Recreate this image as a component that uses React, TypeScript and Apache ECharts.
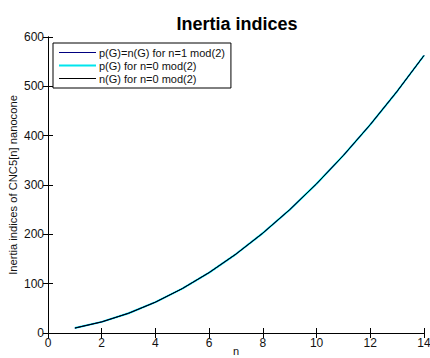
import React, { useEffect, useRef } from "react";
import * as echarts from "echarts";

const nValues = [1, 2, 3, 4, 5, 6, 7, 8, 9, 10, 11, 12, 13, 14];
const oddSeriesValues = [10, 22.5, 40, 62.5, 90, 122.5, 160, 202.5, 250, 302.5, 360, 422.5, 490, 562.5];
const pEvenValues = [10, 22.5, 40, 62.5, 90, 122.5, 160, 202.5, 250, 302.5, 360, 422.5, 490, 562.5];
const nEvenValues = [10, 22.5, 40, 62.5, 90, 122.5, 160, 202.5, 250, 302.5, 360, 422.5, 490, 562.5];
const seriesNames = ["p(G)=n(G) for n=1 mod(2)", "p(G) for n=0 mod(2)", "n(G) for n=0 mod(2)"];
const xTicks = [0, 2, 4, 6, 8, 10, 12, 14];
const yTicks = [0, 100, 200, 300, 400, 500, 600];

const FONT = "Liberation Sans, Arial, sans-serif";

export default function App() {
  const ref = useRef<HTMLDivElement>(null);
  useEffect(() => {
    if (!ref.current) return;
    const chart = echarts.init(ref.current, null, { renderer: "svg" });
    const pair = (vals: number[]) => nValues.map((n, i) => [n, vals[i]]);
    const axisCommon = {
      axisLine: { show: true, lineStyle: { color: "#000", width: 1 } },
      axisTick: { show: true, inside: true, length: 5, lineStyle: { color: "#000" } },
      splitLine: { show: false },
    };
    chart.setOption({
      animation: false,
      backgroundColor: "#fff",
      textStyle: { fontFamily: FONT },
      grid: { left: 48, right: 6, top: 37, bottom: 25, containLabel: false, outerBoundsMode: "none" },
      xAxis: [
        {
          type: "value",
          min: xTicks[0],
          max: xTicks[xTicks.length - 1],
          interval: 2,
          ...axisCommon,
          axisLabel: { color: "#111", fontSize: 12, fontFamily: FONT, margin: 4 },
          name: "n",
          nameLocation: "middle",
          nameGap: 12,
          nameMoveOverlap: false,
          nameTextStyle: { color: "#111", fontSize: 11, fontFamily: FONT },
        },
        {
          type: "value",
          position: "top",
          min: xTicks[0],
          max: xTicks[xTicks.length - 1],
          interval: 2,
          ...axisCommon,
          axisLabel: { show: false },
        },
      ],
      yAxis: [
        {
          type: "value",
          min: yTicks[0],
          max: yTicks[yTicks.length - 1],
          interval: 100,
          ...axisCommon,
          axisLabel: { color: "#111", fontSize: 12, fontFamily: FONT, margin: 4 },
          name: "Inertia indices of CNC5[n] nanocone",
          nameLocation: "middle",
          nameGap: 30,
          nameMoveOverlap: false,
          nameRotate: 90,
          nameTextStyle: { color: "#111", fontSize: 11.2, fontFamily: FONT },
        },
        {
          type: "value",
          position: "right",
          min: yTicks[0],
          max: yTicks[yTicks.length - 1],
          interval: 100,
          ...axisCommon,
          axisLabel: { show: false },
        },
      ],
      title: {
        text: "Inertia indices",
        left: 232,
        top: 10,
        textAlign: "center",
        textStyle: { fontFamily: FONT, fontSize: 18, fontWeight: "bold", color: "#000" },
      },
      legend: {
        orient: "vertical",
        left: 53,
        top: 43,
        padding: [4, 6, 4, 6],
        itemWidth: 37,
        itemHeight: 14,
        itemGap: 2,
        backgroundColor: "#fff",
        borderColor: "#000",
        borderWidth: 1,
        borderRadius: 0,
        textStyle: { fontFamily: FONT, fontSize: 11, color: "#111", padding: [0, 0, 0, -2] },
        data: [
          { name: seriesNames[0], icon: "path://M0,0H37V1H0Z" },
          { name: seriesNames[1], icon: "path://M0,0H37V2H0Z" },
          { name: seriesNames[2], icon: "path://M0,0H37V1H0Z" },
        ],
      },
      series: [
        {
          name: seriesNames[1],
          type: "line",
          data: pair(pEvenValues),
          symbol: "none",
          lineStyle: { color: "#00e5ee", width: 2 },
          itemStyle: { color: "#00e5ee" },
        },
        {
          name: seriesNames[0],
          type: "line",
          data: pair(oddSeriesValues),
          symbol: "none",
          lineStyle: { color: "#000080", width: 1 },
          itemStyle: { color: "#000080" },
        },
        {
          name: seriesNames[2],
          type: "line",
          data: pair(nEvenValues),
          symbol: "none",
          lineStyle: { color: "#000", width: 1 },
          itemStyle: { color: "#000" },
        },
      ],
    });
    return () => chart.dispose();
  }, []);
  return (
    <div
      ref={ref}
      style={{ position: "fixed", left: 0, top: 0, width: 430, height: 358, background: "#fff" }}
    />
  );
}
